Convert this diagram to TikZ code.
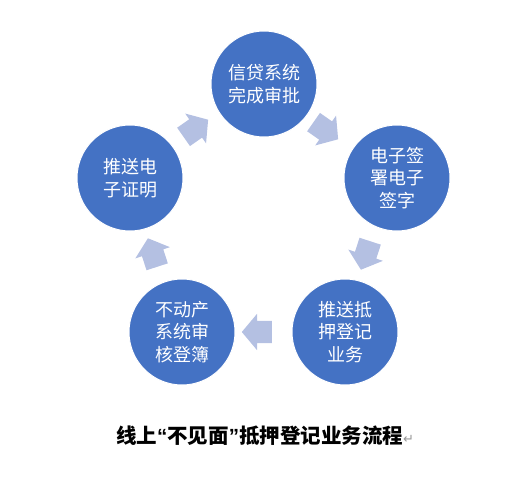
\documentclass[tikz,border=0pt]{standalone}
\usepackage{fontspec}
\setmainfont{Noto Sans CJK SC}
\newfontfamily\symfont{DejaVu Sans}
\newfontfamily\quotefont{Liberation Sans}
\usetikzlibrary{shapes.arrows}
\definecolor{circblue}{RGB}{68,114,196}
\definecolor{arrowblue}{RGB}{180,192,226}
\definecolor{markgray}{RGB}{150,150,150}
\tikzset{
  stepcircle/.style={circle, fill=circblue, draw=white, line width=1pt, minimum size=106pt, inner sep=0pt,
    text=white, align=center, font=\fontsize{18pt}{22.5pt}\selectfont},
  cyclearrow/.style={single arrow, fill=arrowblue, draw=none, minimum height=30pt,
    inner xsep=0pt, inner ysep=11pt, text height=0pt, text depth=0pt,
    single arrow head extend=7pt, single arrow tip angle=100}
}
\begin{document}
\begin{tikzpicture}[x=1pt, y=-1pt]
\useasboundingbox (0,0) rectangle (520,479);
\node[stepcircle] (n1) at (264,84) {信贷系统\\完成审批};
\node[stepcircle] (n2) at (397,178) {电子签\\署电子\\签字};
\node[stepcircle] (n3) at (345,332) {推送抵\\押登记\\业务};
\node[stepcircle] (n4) at (182,332) {不动产\\系统审\\核登簿};
\node[stepcircle] (n5) at (130,178) {推送电\\子证明};
\node[cyclearrow, rotate=35] (a1) at (192,131) {};
\node[cyclearrow, rotate=-35] (a2) at (322,128) {};
\node[cyclearrow, rotate=-108] (a3) at (367,251) {};
\node[cyclearrow, rotate=180] (a4) at (261.5,332) {};
\node[cyclearrow, rotate=108] (a5) at (154,257) {};
\node[font=\fontsize{20.5pt}{24pt}\selectfont\bfseries] (title) at (265,436)
  {线上{\quotefont “}不见面{\quotefont ”}抵押登记业务流程{\symfont\mdseries\fontsize{13pt}{15pt}\selectfont\color{markgray}↵}};
\end{tikzpicture}
\end{document}
